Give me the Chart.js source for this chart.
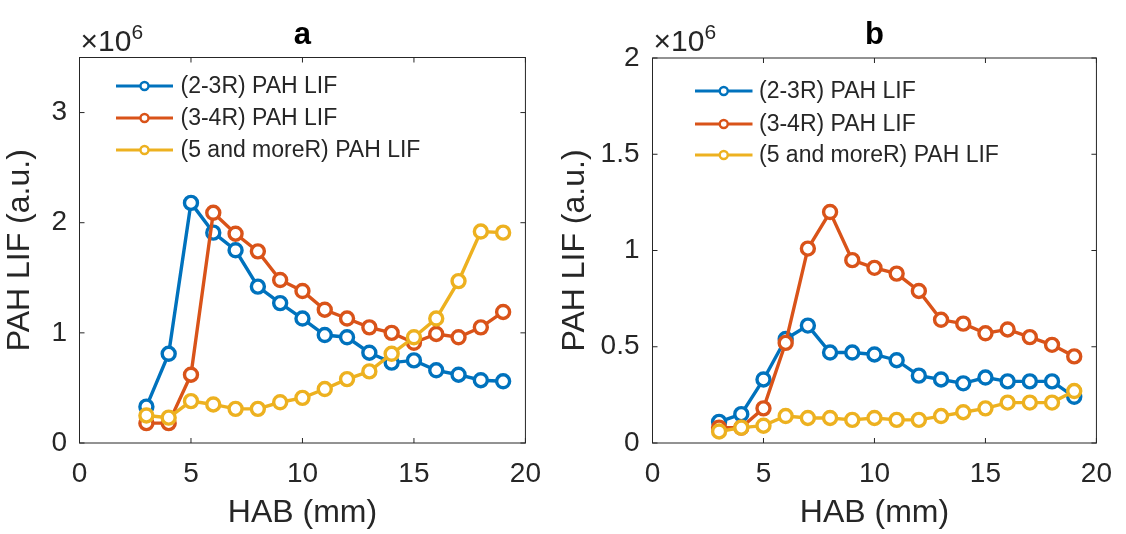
<!DOCTYPE html>
<html>
<head>
<meta charset="utf-8">
<script src="https://cdn.jsdelivr.net/npm/chart.js@4.4.1/dist/chart.umd.min.js"></script>
<style>
  html, body { margin: 0; padding: 0; background: #ffffff; }
  #wrap { position: relative; width: 1126px; height: 534px; overflow: hidden; }
  canvas { position: absolute; top: 0; }
  #panelA { left: 0; }
  #panelB { left: 555px; }
</style>
</head>
<body>
<div id="wrap">
  <canvas id="panelA" width="555" height="534" style="width:555px;height:534px"></canvas>
  <canvas id="panelB" width="571" height="534" style="width:571px;height:534px"></canvas>
</div>
<script>
// Height above burner (mm)
const hab = [3, 4, 5, 6, 7, 8, 9, 10, 11, 12, 13, 14, 15, 16, 17, 18, 19];

// PAH LIF signal, in units of 10^6 a.u.
const lif23A = [0.33, 0.81, 2.18, 1.91, 1.75, 1.42, 1.27, 1.13, 0.98, 0.96, 0.82, 0.73, 0.75, 0.66, 0.62, 0.57, 0.56];
const lif34A = [0.18, 0.18, 0.62, 2.09, 1.90, 1.74, 1.48, 1.38, 1.21, 1.13, 1.05, 1.00, 0.91, 0.99, 0.96, 1.05, 1.19];
const lif5A  = [0.25, 0.23, 0.38, 0.35, 0.31, 0.31, 0.37, 0.41, 0.49, 0.58, 0.65, 0.81, 0.96, 1.13, 1.47, 1.92, 1.91];

const lif23B = [0.11, 0.15, 0.33, 0.54, 0.61, 0.47, 0.47, 0.46, 0.43, 0.35, 0.33, 0.31, 0.34, 0.32, 0.32, 0.32, 0.24];
const lif34B = [0.08, 0.08, 0.18, 0.52, 1.01, 1.20, 0.95, 0.91, 0.88, 0.79, 0.64, 0.62, 0.57, 0.59, 0.55, 0.51, 0.45];
const lif5B  = [0.06, 0.08, 0.09, 0.14, 0.13, 0.13, 0.12, 0.13, 0.12, 0.12, 0.14, 0.16, 0.18, 0.21, 0.21, 0.21, 0.27];

const seriesNames = ['(2-3R) PAH LIF', '(3-4R) PAH LIF', '(5 and moreR) PAH LIF'];
const seriesColors = ['#0072BD', '#D95319', '#EDB120'];

const xTicks = [0, 5, 10, 15, 20];
const yTicksA = [0, 1, 2, 3];
const yTicksB = [0, 0.5, 1, 1.5, 2];

const FONT = '"Liberation Sans", Arial, Helvetica, sans-serif';
const AXIS_COLOR = '#262626';

function makeDatasets(values) {
  return values.map((vals, i) => ({
    label: seriesNames[i],
    data: hab.map((x, j) => ({ x: x, y: vals[j] })),
    borderColor: seriesColors[i],
    backgroundColor: '#ffffff',
    pointBorderColor: seriesColors[i],
    pointBackgroundColor: '#ffffff',
    borderWidth: 3.4,
    pointRadius: 6.5,
    pointBorderWidth: 3.4,
    pointHoverRadius: 6.5,
    tension: 0,
    order: 2 - i   // later series drawn on top
  }));
}

// Frame, inward tick marks, panel letter, exponent note and legend
const panelDecor = {
  id: 'panelDecor',
  afterDraw(chart, args, opts) {
    const ctx = chart.ctx;
    const a = chart.chartArea;
    const xs = chart.scales.x, ys = chart.scales.y;
    ctx.save();
    ctx.strokeStyle = AXIS_COLOR;
    ctx.lineWidth = 1;
    ctx.strokeRect(a.left, a.top, a.right - a.left, a.bottom - a.top);
    const tl = 5;
    ctx.beginPath();
    xs.ticks.forEach(t => {
      const px = xs.getPixelForValue(t.value);
      ctx.moveTo(px, a.bottom); ctx.lineTo(px, a.bottom - tl);
      ctx.moveTo(px, a.top); ctx.lineTo(px, a.top + tl);
    });
    ys.ticks.forEach(t => {
      const py = ys.getPixelForValue(t.value);
      ctx.moveTo(a.left, py); ctx.lineTo(a.left + tl, py);
      ctx.moveTo(a.right, py); ctx.lineTo(a.right - tl, py);
    });
    ctx.stroke();

    // panel letter
    ctx.fillStyle = '#000000';
    ctx.font = 'bold 31px ' + FONT;
    ctx.textAlign = 'center';
    ctx.textBaseline = 'alphabetic';
    ctx.fillText(opts.letter, (a.left + a.right) / 2, a.top - 14);

    // exponent note
    ctx.fillStyle = AXIS_COLOR;
    ctx.textAlign = 'left';
    ctx.font = '30px ' + FONT;
    const ex = a.left + 1, ey = a.top - 7;
    ctx.fillText('\u00d710', ex, ey);
    const w = ctx.measureText('\u00d710').width;
    ctx.font = '21px ' + FONT;
    ctx.fillText('6', ex + w, ey - 12);

    // legend
    const L = opts.legend;
    ctx.font = '23px ' + FONT;
    ctx.textBaseline = 'middle';
    seriesNames.forEach((name, i) => {
      const y = a.top + L.rows[i];
      const x0 = a.left + L.x0, x1 = a.left + L.x1;
      ctx.strokeStyle = seriesColors[i];
      ctx.lineWidth = 3.2;
      ctx.beginPath(); ctx.moveTo(x0, y); ctx.lineTo(x1, y); ctx.stroke();
      ctx.beginPath();
      ctx.arc((x0 + x1) / 2, y, 4, 0, Math.PI * 2);
      ctx.fillStyle = '#ffffff';
      ctx.fill();
      ctx.lineWidth = 2.4;
      ctx.stroke();
      ctx.fillStyle = AXIS_COLOR;
      ctx.fillText(name, a.left + L.tx, y + 1);
    });
    ctx.restore();
  }
};

function makePanel(id, values, yMax, yTicks, geo, letter, legend) {
  return new Chart(document.getElementById(id), {
    type: 'line',
    data: { datasets: makeDatasets(values) },
    options: {
      responsive: false,
      animation: false,
      events: [],
      layout: { padding: { left: 0, right: geo.right, top: geo.top, bottom: 0 } },
      plugins: {
        legend: { display: false },
        tooltip: { enabled: false },
        title: { display: false },
        panelDecor: { letter: letter, legend: legend }
      },
      scales: {
        x: {
          type: 'linear', min: 0, max: 20,
          afterBuildTicks: s => { s.ticks = xTicks.map(v => ({ value: v })); },
          afterFit: s => { s.height = geo.xh; },
          grid: { display: false, drawTicks: false },
          border: { display: false },
          ticks: { font: { family: FONT, size: 28 }, color: AXIS_COLOR, padding: 14, maxRotation: 0, autoSkip: false },
          title: { display: true, text: 'HAB (mm)', font: { family: FONT, size: 32 }, color: AXIS_COLOR, padding: { top: 0, bottom: 2 } }
        },
        y: {
          type: 'linear', min: 0, max: yMax,
          afterBuildTicks: s => { s.ticks = yTicks.map(v => ({ value: v })); },
          afterFit: s => { s.width = geo.yw; },
          grid: { display: false, drawTicks: false },
          border: { display: false },
          ticks: { font: { family: FONT, size: 28 }, color: AXIS_COLOR, padding: geo.ypad, autoSkip: false, callback: v => String(v) },
          title: { display: true, text: 'PAH LIF (a.u.)', font: { family: FONT, size: 32 }, color: AXIS_COLOR, padding: { top: 1, bottom: 0 } }
        }
      }
    },
    plugins: [panelDecor]
  });
}

makePanel('panelA', [lif23A, lif34A, lif5A], 3.5, yTicksA,
  { right: 21, top: 57.5, xh: 91, yw: 79.5, ypad: 12.5 }, 'a',
  { x0: 36.5, x1: 93.5, tx: 101, rows: [28.5, 60.5, 92.5] });

makePanel('panelB', [lif23B, lif34B, lif5B], 2, yTicksB,
  { right: 20, top: 58, xh: 91, yw: 97.5, ypad: 13 }, 'b',
  { x0: 42.5, x1: 100, tx: 106.5, rows: [33, 66, 97] });
</script>
</body>
</html>
